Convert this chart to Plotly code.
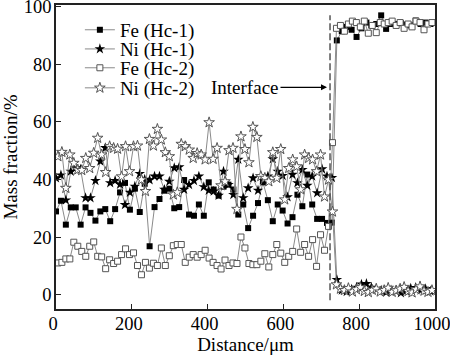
import plotly.graph_objects as go

# ---------------- data ----------------
distance_hc1 = [0, 13, 26, 39, 52, 65, 78, 91, 104, 117, 130, 143, 156, 169, 182, 195, 208, 221, 234, 247,
                260, 273, 286, 299, 312, 325, 338, 351, 364, 377, 390, 403, 416, 429, 442, 455, 468, 481, 494, 507,
                520, 533, 546, 559, 572, 585, 598, 611, 624, 637, 650, 663, 676, 689, 702, 715, 728, 741, 754, 767,
                780, 793, 806, 819, 832, 845, 858, 871, 884, 897, 910, 923, 936, 949, 962, 975, 988]

fe_hc1 = [28.9, 32.6, 24.3, 30.3, 30.3, 24.3, 30.3, 28.4, 25.7, 28.9, 29.7, 25.5, 29.7, 35.5, 38.8, 29.5, 36.8, 28.7,
          38.5, 16.8, 30.4, 33.2, 36.1, 36.8, 30.0, 30.4, 39.8, 27.8, 27.4, 31.3, 27.4, 39.0, 36.5, 34.4, 37.5, 38.2,
          36.5, 27.8, 31.3, 23.1, 27.4, 31.8, 39.0, 32.8, 25.5, 31.3, 29.2, 24.7, 26.9, 34.7, 30.7, 41.7, 31.3, 26.3,
          26.3, 24.9, 25.0,
          88.3, 91.5, 93.0, 92.0, 89.5, 92.5, 94.5, 93.5, 94.0, 97.0, 92.3, 94.0, 94.0, 94.3, 93.8, 93.5, 95.2, 94.0,
          94.5, 94.0]

ni_hc1 = [40.5, 41.5, 32.8, 42.8, 44.0, 43.5, 33.6, 33.6, 39.6, 46.3, 51.0, 38.8, 39.6, 38.3, 31.2, 35.5, 37.6, 42.0,
          40.0, 39.8, 41.1, 41.1, 36.5, 39.3, 44.0, 44.3, 36.5, 38.2, 39.6, 41.1, 37.4, 36.2, 35.9, 34.4, 42.8, 38.2,
          34.7, 46.9, 33.6, 37.0, 40.5, 36.2, 39.9, 41.1, 47.1, 42.8, 41.3, 33.9, 41.7, 38.8, 43.4, 37.9, 41.1, 35.3,
          43.6, 41.1, 40.6,
          5.2, 1.5, 1.0, 1.8, 2.5, 3.6, 3.8, 2.5, 2.0, 1.5, 0.8, 1.6, 1.2, 0.6, 1.3, 2.2, 2.4, 1.5, 2.0, 1.2]

distance_hc2 = [5, 15.5, 26, 36.5, 47, 57.5, 68, 78.5, 89, 99.5, 110, 120.5, 131, 141.5, 152, 162.5, 173, 183.5,
                194, 204.5, 215, 225.5, 236, 246.5, 257, 267.5, 278, 288.5, 299, 309.5, 320, 330.5, 341, 351.5,
                362, 372.5, 383, 393.5, 404, 414.5, 425, 435.5, 446, 456.5, 467, 477.5, 488, 498.5, 509, 519.5,
                530, 540.5, 551, 561.5, 572, 582.5, 593, 603.5, 614, 624.5, 635, 645.5, 656, 666.5, 677, 687.5,
                698, 708.5, 719, 729.5, 740, 750.5, 761, 771.5, 782, 792.5, 803, 813.5, 824, 834.5, 845, 855.5,
                866, 876.5, 887, 897.5, 908, 918.5, 929, 939.5, 950, 960.5, 971, 981.5, 992]

fe_hc2 = [11.0, 11.2, 12.4, 12.4, 18.2, 16.8, 15.0, 13.3, 16.8, 18.3, 13.3, 13.1, 9.0, 12.1, 10.8, 11.6, 13.9, 15.9,
          13.9, 14.5, 10.1, 6.9, 11.2, 9.2, 10.9, 10.1, 16.2, 10.1, 13.5, 17.0, 17.4, 17.4, 11.2, 13.0, 13.9, 13.0,
          13.9, 15.4, 12.7, 11.2, 10.1, 8.9, 12.0, 10.1, 11.0, 10.8, 20.0, 16.2, 10.8, 10.4, 10.4, 11.6, 14.2, 9.6,
          13.9, 17.4, 14.4, 11.2, 13.3, 15.0, 22.8, 14.7, 17.4, 13.3, 19.1, 9.8, 20.8, 15.4, 23.7,
          52.8,
          92.5, 93.5, 91.5, 94.0, 95.0, 94.5, 93.0, 95.0, 90.8, 93.5, 91.0, 94.5, 94.0, 94.5, 95.0, 93.5, 94.5, 92.5,
          94.0, 93.0, 95.0, 94.5, 92.0, 94.0, 94.5]

ni_hc2 = [48.0, 49.5, 37.0, 48.6, 45.7, 43.4, 43.2, 47.4, 43.9, 49.2, 54.4, 48.6, 42.5, 51.5, 50.9,
          50.6, 41.0, 51.5, 42.8, 51.5, 51.7, 39.9, 35.9, 54.0, 51.7, 57.5, 53.8, 49.4, 48.0, 34.7, 35.5, 52.3,
          51.5, 50.3, 47.4,
          49.1, 48.6, 46.9, 59.8, 47.1, 50.9, 37.9, 39.3, 50.1, 50.9, 29.7, 54.9, 50.5, 45.9, 58.2, 54.7, 41.1,
          40.5, 39.3, 49.4, 40.5, 50.5, 33.0, 43.9, 46.9, 44.5, 36.5, 48.6, 47.4, 46.9, 42.8, 48.6, 34.0, 39.9,
          28.8,
          3.5, 2.0, 1.5, 2.2, 1.0, 1.8, 2.5, 1.2, 0.8, 1.6, 2.0, 1.0, 1.5, 2.3, 0.9, 1.4, 2.0, 2.6, 1.2, 0.7, 1.8,
          2.8, 1.3, 0.9, 1.5]

series_names = ["Fe (Hc-1)", "Ni (Hc-1)", "Fe (Hc-2)", "Ni (Hc-2)"]
x_ticks = [0, 200, 400, 600, 800, 1000]
y_ticks = [0, 20, 40, 60, 80, 100]
interface_x = 723
interface_y = [-2, 97]
interface_label = "Interface"
interface_label_y = 72

# ---------------- figure ----------------
FONT = "Liberation Serif"
LINE = dict(color="#8a8a8a", width=1)

fig = go.Figure()
fig.add_trace(go.Scatter(x=distance_hc1, y=fe_hc1, mode="lines+markers", name=series_names[0],
                         line=LINE, marker=dict(symbol="square", size=6, color="black"),
                         legend="legend", showlegend=True))
fig.add_trace(go.Scatter(x=distance_hc1, y=ni_hc1, mode="lines+markers", name=series_names[1],
                         line=LINE, marker=dict(symbol="star", size=8, color="black"),
                         legend="legend2", showlegend=True))
fig.add_trace(go.Scatter(x=distance_hc2, y=fe_hc2, mode="lines+markers", name=series_names[2],
                         line=LINE, marker=dict(symbol="square", size=6, color="white",
                                                line=dict(color="#555555", width=1)),
                         legend="legend3", showlegend=True))
fig.add_trace(go.Scatter(x=distance_hc2, y=ni_hc2, mode="lines+markers", name=series_names[3],
                         line=LINE, marker=dict(symbol="star", size=8, color="white",
                                                line=dict(color="#555555", width=1)),
                         legend="legend4", showlegend=True))

fig.add_shape(type="line", xref="x", yref="y", x0=interface_x, x1=interface_x,
              y0=interface_y[0], y1=interface_y[1],
              line=dict(color="#555555", width=1.5, dash="7px,3px"))

fig.add_annotation(x=interface_x - 8, y=interface_label_y, xref="x", yref="y",
                   text=interface_label, showarrow=True, ax=-82, ay=0,
                   arrowhead=2, arrowsize=1, arrowwidth=1.2, arrowcolor="black",
                   font=dict(family=FONT, size=19, color="black"))

axis_common = dict(showline=True, linecolor="#222222", linewidth=1.5, mirror=True,
                   ticks="inside", ticklen=5, tickwidth=1, tickcolor="#222222",
                   showgrid=False, zeroline=False, ticklabeloverflow="allow", automargin=False)

fig.update_xaxes(range=[0, 1000], tickvals=x_ticks, **axis_common, ticklabelstandoff=-3,
                 ticklabelshift=-3, tickfont=dict(family=FONT, size=18.5, color="black"),
                 title=dict(text="Distance/μm", font=dict(family=FONT, size=19, color="black"), standoff=4))
fig.update_yaxes(range=[-5, 100.6], tickvals=y_ticks, **axis_common, ticklabelstandoff=-1,
                 tickfont=dict(family=FONT, size=18.5, color="black"),
                 title=dict(text="Mass fraction/%", font=dict(family=FONT, size=19, color="black"), standoff=8))

leg_common = dict(bgcolor="rgba(0,0,0,0)", font=dict(family=FONT, size=19, color="black"),
                  xanchor="left", yanchor="middle", x=0.063)
fig.update_layout(
    width=450, height=359,
    margin=dict(l=56, r=15, t=5, b=50, autoexpand=False),
    plot_bgcolor="white", paper_bgcolor="white",
    showlegend=True,
    legend=dict(**leg_common, y=0.918),
    legend2=dict(**leg_common, y=0.855),
    legend3=dict(**leg_common, y=0.793),
    legend4=dict(**leg_common, y=0.727),
)

fig.write_html("out.html", config={"displayModeBar": False},
               post_script="document.body.style.margin='0px';")
